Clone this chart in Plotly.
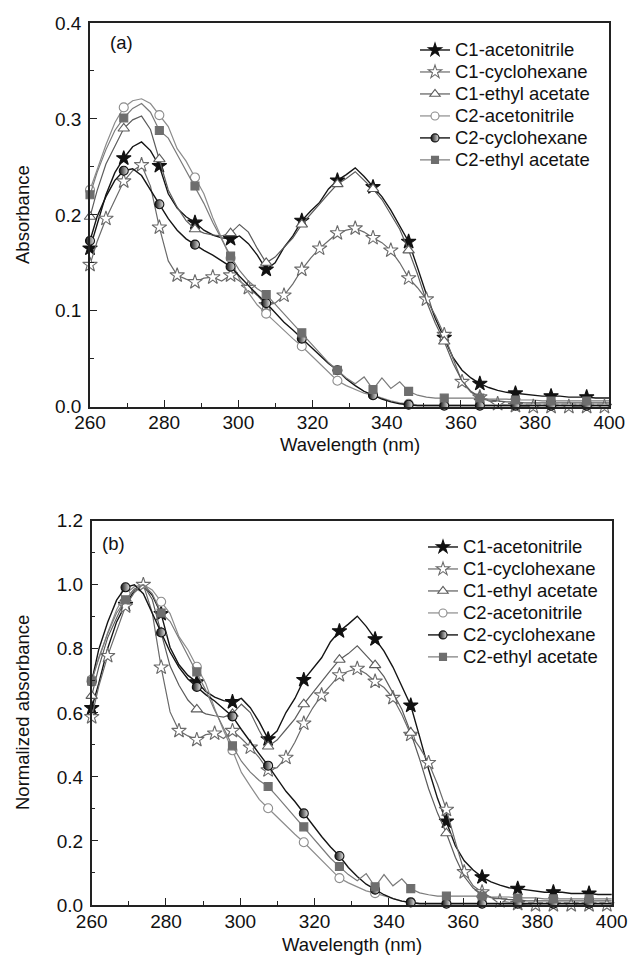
import plotly.graph_objects as go

# ---------------- data ----------------
wavelength = [260.0, 261.9, 264.3, 266.7, 269.1, 271.5, 273.9, 276.3, 278.7, 281.1,
              283.5, 285.9, 288.3, 290.7, 293.1, 295.5, 297.9, 300.3, 302.7, 305.1,
              307.5, 309.9, 312.3, 314.7, 317.1, 319.5, 321.9, 324.3, 326.7, 329.1,
              331.5, 333.9, 336.3, 338.7, 341.1, 343.5, 345.9, 348.3, 350.7, 353.1,
              355.5, 357.9, 360.3, 362.7, 365.1, 367.5, 369.9, 372.3, 374.7, 377.1,
              379.5, 381.9, 384.3, 386.7, 389.1, 391.5, 393.9, 396.3, 398.7, 401.1]

series_names = ["C1-acetonitrile", "C1-cyclohexane", "C1-ethyl acetate",
                "C2-acetonitrile", "C2-cyclohexane", "C2-ethyl acetate"]

# panel (a): absorbance
abs_c1_acn = [0.165, 0.191, 0.221, 0.244, 0.259, 0.271, 0.276, 0.267, 0.251, 0.222,
              0.207, 0.198, 0.192, 0.184, 0.179, 0.176, 0.175, 0.178, 0.170, 0.158,
              0.143, 0.150, 0.166, 0.178, 0.194, 0.204, 0.213, 0.227, 0.236, 0.242,
              0.249, 0.240, 0.229, 0.219, 0.205, 0.188, 0.172, 0.145, 0.117, 0.092,
              0.072, 0.051, 0.038, 0.030, 0.024, 0.020, 0.017, 0.015, 0.014, 0.013,
              0.012, 0.011, 0.011, 0.011, 0.010, 0.010, 0.010, 0.009, 0.009, 0.009]
abs_c1_cyc = [0.148, 0.172, 0.196, 0.216, 0.235, 0.246, 0.252, 0.230, 0.187, 0.152,
              0.137, 0.133, 0.130, 0.134, 0.135, 0.131, 0.137, 0.131, 0.124, 0.116,
              0.106, 0.108, 0.116, 0.128, 0.143, 0.155, 0.165, 0.173, 0.181, 0.184,
              0.186, 0.182, 0.176, 0.171, 0.163, 0.150, 0.134, 0.124, 0.112, 0.095,
              0.075, 0.050, 0.026, 0.015, 0.010, 0.006, 0.003, 0.002, 0.001, 0.000,
              0.000, -0.001, 0.000, -0.001, 0.000, 0.000, 0.000, -0.001, 0.000, 0.000]
abs_c1_ea = [0.198, 0.225, 0.253, 0.272, 0.290, 0.299, 0.303, 0.289, 0.258, 0.226,
             0.208, 0.194, 0.185, 0.181, 0.179, 0.178, 0.181, 0.190, 0.182, 0.165,
             0.150, 0.156, 0.166, 0.176, 0.190, 0.201, 0.211, 0.222, 0.232, 0.238,
             0.245, 0.236, 0.227, 0.216, 0.201, 0.185, 0.163, 0.138, 0.110, 0.087,
             0.068, 0.045, 0.027, 0.016, 0.010, 0.007, 0.006, 0.005, 0.005, 0.004,
             0.004, 0.004, 0.004, 0.004, 0.004, 0.004, 0.004, 0.004, 0.004, 0.004]
abs_c2_acn = [0.226, 0.247, 0.273, 0.296, 0.312, 0.319, 0.321, 0.316, 0.304, 0.292,
              0.269, 0.256, 0.239, 0.222, 0.197, 0.175, 0.155, 0.133, 0.119, 0.106,
              0.097, 0.088, 0.079, 0.071, 0.063, 0.054, 0.045, 0.035, 0.027, 0.022,
              0.018, 0.014, 0.012, 0.009, 0.006, 0.004, 0.003, 0.002, 0.002, 0.002,
              0.002, 0.002, 0.002, 0.002, 0.002, 0.002, 0.002, 0.002, 0.002, 0.002,
              0.002, 0.002, 0.002, 0.002, 0.002, 0.002, 0.002, 0.002, 0.002, 0.002]
abs_c2_cyc = [0.173, 0.198, 0.219, 0.236, 0.246, 0.248, 0.241, 0.226, 0.211, 0.196,
              0.184, 0.175, 0.169, 0.163, 0.158, 0.152, 0.146, 0.136, 0.126, 0.117,
              0.108, 0.098, 0.088, 0.080, 0.071, 0.062, 0.053, 0.045, 0.038, 0.029,
              0.022, 0.016, 0.012, 0.008, 0.005, 0.003, 0.002, 0.001, 0.001, 0.001,
              0.001, 0.001, 0.001, 0.001, 0.001, 0.001, 0.001, 0.001, 0.001, 0.001,
              0.001, 0.001, 0.001, 0.001, 0.001, 0.001, 0.001, 0.001, 0.001, 0.001]
abs_c2_ea = [0.221, 0.244, 0.268, 0.288, 0.301, 0.311, 0.316, 0.307, 0.288, 0.280,
             0.263, 0.246, 0.230, 0.212, 0.192, 0.174, 0.157, 0.142, 0.131, 0.123,
             0.117, 0.107, 0.097, 0.087, 0.077, 0.066, 0.056, 0.046, 0.038, 0.030,
             0.024, 0.031, 0.018, 0.030, 0.019, 0.026, 0.016, 0.012, 0.010, 0.009,
             0.009, 0.009, 0.009, 0.009, 0.009, 0.008, 0.008, 0.008, 0.007, 0.007,
             0.007, 0.006, 0.006, 0.006, 0.006, 0.006, 0.006, 0.006, 0.006, 0.006]

# panel (b): normalized absorbance
nrm_c1_acn = [0.615, 0.692, 0.801, 0.884, 0.938, 0.982, 1.000, 0.967, 0.909, 0.804,
              0.750, 0.717, 0.696, 0.667, 0.649, 0.638, 0.634, 0.645, 0.616, 0.572,
              0.518, 0.543, 0.601, 0.645, 0.703, 0.739, 0.772, 0.822, 0.855, 0.877,
              0.902, 0.870, 0.830, 0.793, 0.743, 0.681, 0.623, 0.525, 0.424, 0.333,
              0.261, 0.185, 0.138, 0.109, 0.087, 0.072, 0.062, 0.054, 0.051, 0.047,
              0.043, 0.040, 0.040, 0.040, 0.036, 0.036, 0.036, 0.033, 0.033, 0.033]
nrm_c1_cyc = [0.587, 0.683, 0.778, 0.857, 0.933, 0.976, 1.000, 0.913, 0.742, 0.603,
              0.544, 0.528, 0.516, 0.532, 0.536, 0.520, 0.544, 0.520, 0.492, 0.460,
              0.421, 0.429, 0.460, 0.508, 0.567, 0.615, 0.655, 0.686, 0.718, 0.730,
              0.738, 0.722, 0.698, 0.679, 0.647, 0.595, 0.532, 0.492, 0.444, 0.377,
              0.298, 0.198, 0.103, 0.060, 0.040, 0.024, 0.012, 0.008, 0.004, 0.000,
              0.000, -0.004, 0.000, -0.004, 0.000, 0.000, 0.000, -0.004, 0.000, 0.000]
nrm_c1_ea = [0.653, 0.743, 0.835, 0.898, 0.957, 0.987, 1.000, 0.954, 0.851, 0.746,
             0.686, 0.640, 0.611, 0.597, 0.591, 0.587, 0.597, 0.627, 0.601, 0.545,
             0.495, 0.515, 0.548, 0.581, 0.627, 0.663, 0.696, 0.733, 0.766, 0.785,
             0.809, 0.779, 0.749, 0.713, 0.663, 0.611, 0.538, 0.455, 0.363, 0.287,
             0.224, 0.149, 0.089, 0.053, 0.033, 0.023, 0.020, 0.017, 0.017, 0.013,
             0.013, 0.013, 0.013, 0.013, 0.013, 0.013, 0.013, 0.013, 0.013, 0.013]
nrm_c2_acn = [0.704, 0.769, 0.850, 0.922, 0.972, 0.994, 1.000, 0.984, 0.947, 0.910,
              0.838, 0.797, 0.744, 0.692, 0.614, 0.545, 0.483, 0.414, 0.371, 0.330,
              0.302, 0.274, 0.246, 0.221, 0.196, 0.168, 0.140, 0.109, 0.084, 0.069,
              0.056, 0.044, 0.037, 0.028, 0.019, 0.012, 0.009, 0.006, 0.006, 0.006,
              0.006, 0.006, 0.006, 0.006, 0.006, 0.006, 0.006, 0.006, 0.006, 0.006,
              0.006, 0.006, 0.006, 0.006, 0.006, 0.006, 0.006, 0.006, 0.006, 0.006]
nrm_c2_cyc = [0.698, 0.798, 0.883, 0.952, 0.992, 1.000, 0.972, 0.911, 0.851, 0.790,
              0.742, 0.706, 0.681, 0.657, 0.637, 0.613, 0.589, 0.548, 0.508, 0.472,
              0.435, 0.395, 0.355, 0.323, 0.286, 0.250, 0.214, 0.181, 0.153, 0.117,
              0.089, 0.065, 0.048, 0.032, 0.020, 0.012, 0.008, 0.004, 0.004, 0.004,
              0.004, 0.004, 0.004, 0.004, 0.004, 0.004, 0.004, 0.004, 0.004, 0.004,
              0.004, 0.004, 0.004, 0.004, 0.004, 0.004, 0.004, 0.004, 0.004, 0.004]
nrm_c2_ea = [0.699, 0.772, 0.848, 0.912, 0.953, 0.984, 1.000, 0.972, 0.912, 0.886,
             0.832, 0.779, 0.728, 0.671, 0.608, 0.551, 0.497, 0.449, 0.415, 0.389,
             0.370, 0.339, 0.307, 0.275, 0.244, 0.209, 0.177, 0.146, 0.120, 0.095,
             0.076, 0.098, 0.057, 0.095, 0.060, 0.082, 0.051, 0.038, 0.032, 0.028,
             0.028, 0.028, 0.028, 0.028, 0.028, 0.025, 0.025, 0.025, 0.022, 0.022,
             0.022, 0.019, 0.019, 0.019, 0.019, 0.019, 0.019, 0.019, 0.019, 0.019]

x_ticks = [260, 280, 300, 320, 340, 360, 380, 400]
y_ticks_a = [0.0, 0.1, 0.2, 0.3, 0.4]
y_ticks_b = [0.0, 0.2, 0.4, 0.6, 0.8, 1.0, 1.2]

panel_a = [abs_c1_acn, abs_c1_cyc, abs_c1_ea, abs_c2_acn, abs_c2_cyc, abs_c2_ea]
panel_b = [nrm_c1_acn, nrm_c1_cyc, nrm_c1_ea, nrm_c2_acn, nrm_c2_cyc, nrm_c2_ea]

# ---------------- styles ----------------
FONT = "Liberation Sans, Arial, sans-serif"
TXT = 18.5
styles = [
    dict(line="#151515", lw=1.4, symbol="star", size=11, fill="#111111", edge="#111111", step=4),
    dict(line="#6a6a6a", lw=1.2, symbol="star", size=11, fill="white", edge="#6a6a6a", step=2),
    dict(line="#5c5c5c", lw=1.2, symbol="triangle-up", size=10, fill="white", edge="#5c5c5c", step=4),
    dict(line="#8c8c8c", lw=1.2, symbol="circle", size=9, fill="white", edge="#8c8c8c", step=4),
    dict(line="#151515", lw=1.4, symbol="circle", size=9, fill="#111111", edge="#111111", step=4,
         gradient=True),
    dict(line="#7a7a7a", lw=1.2, symbol="square", size=8, fill="#6e6e6e", edge="#6e6e6e", step=4),
]


def marker_dict(st, size=None):
    m = dict(symbol=st["symbol"], size=size or st["size"], color=st["fill"],
             line=dict(color=st["edge"], width=1.1))
    if st.get("gradient"):
        m["gradient"] = dict(type="horizontal", color="#e8e8e8")
    return m


fig = go.Figure()

for panel, xa, ya, leg in [(panel_a, "x", "y", "legend"), (panel_b, "x2", "y2", "legend2")]:
    for name, vals, st in zip(series_names, panel, styles):
        fig.add_trace(go.Scatter(
            x=wavelength, y=vals, mode="lines", xaxis=xa, yaxis=ya,
            line=dict(color=st["line"], width=st["lw"]),
            showlegend=False, hoverinfo="skip"))
        fig.add_trace(go.Scatter(
            x=wavelength[::st["step"]], y=vals[::st["step"]], mode="markers",
            xaxis=xa, yaxis=ya, marker=marker_dict(st), cliponaxis=False,
            showlegend=False, name=name))
    for name, st in zip(series_names, styles):
        fig.add_trace(go.Scatter(
            x=[None], y=[None], mode="lines+markers", xaxis=xa, yaxis=ya,
            name=f'<span style="font-size:{TXT}px">{name}</span>', legend=leg,
            line=dict(color=st["line"], width=st["lw"]),
            marker=marker_dict(st, size=st["size"] - 1)))

W, H = 630, 956
axis_line = dict(showline=True, linecolor="#222222", linewidth=1.5, mirror=True,
                 ticks="inside", ticklen=7, tickwidth=1.3, tickcolor="#222222",
                 showgrid=False, zeroline=False, automargin=False,
                 tickfont=dict(family=FONT, size=TXT + 0.5, color="#111111"))


def xaxis(domain, anchor):
    d = dict(axis_line)
    d.update(domain=domain, anchor=anchor, range=[260, 400], tickvals=x_ticks,
             ticklabelstandoff=-2,
             minor=dict(ticks="inside", ticklen=4, tickwidth=1.2, tickcolor="#222222",
                        dtick=10, tick0=260, showgrid=False))
    return d


def yaxis(domain, anchor, rng, tv, minor_dt):
    d = dict(axis_line)
    d.update(domain=domain, anchor=anchor, range=rng, tickvals=tv, tickformat=".1f",
             ticklabelstandoff=3,
             minor=dict(ticks="inside", ticklen=4, tickwidth=1.2, tickcolor="#222222",
                        dtick=minor_dt, tick0=0, showgrid=False))
    return d


# legend font size sets the row pitch (~22 px); the label text itself is 18.5 px
LEG_FONT = 14.6
fig.update_layout(
    template="none",
    width=W, height=H,
    margin=dict(l=0, r=0, t=0, b=0, autoexpand=False),
    paper_bgcolor="white", plot_bgcolor="white",
    font=dict(family=FONT, size=TXT, color="#111111"),
    xaxis=xaxis([90 / W, 609.3 / W], "y"),
    yaxis=yaxis([1 - 406.7 / H, 1 - 23 / H], "x", [0, 0.4], y_ticks_a, 0.05),
    xaxis2=xaxis([91.7 / W, 611.7 / W], "y2"),
    yaxis2=yaxis([1 - 905 / H, 1 - 520.7 / H], "x2", [0, 1.2], y_ticks_b, 0.1),
    legend=dict(x=415 / W, y=1 - 34 / H, xanchor="left", yanchor="top",
                font=dict(family=FONT, size=LEG_FONT, color="#111111"),
                bgcolor="rgba(0,0,0,0)", borderwidth=0, tracegroupgap=0),
    legend2=dict(x=423 / W, y=1 - 531 / H, xanchor="left", yanchor="top",
                 font=dict(family=FONT, size=LEG_FONT, color="#111111"),
                 bgcolor="rgba(0,0,0,0)", borderwidth=0, tracegroupgap=0),
    showlegend=True,
)

ann = dict(xref="paper", yref="paper", showarrow=False, xanchor="center", yanchor="middle",
           font=dict(family=FONT, size=TXT, color="#111111"))
fig.add_annotation(text="(a)", x=121 / W, y=1 - 43 / H, **ann)
fig.add_annotation(text="(b)", x=113 / W, y=1 - 543 / H, **ann)
fig.add_annotation(text="Wavelength (nm)", x=(90 + 609.3) / 2 / W, y=1 - 445 / H, **ann)
fig.add_annotation(text="Wavelength (nm)", x=(91.7 + 611.7) / 2 / W, y=1 - 944 / H, **ann)
fig.add_annotation(text="Absorbance", x=22 / W, y=1 - 215 / H, textangle=-90, **ann)
fig.add_annotation(text="Normalized absorbance", x=22 / W, y=1 - 713 / H, textangle=-90, **ann)

# the page's default 8 px body margin would push the 630x956 figure off the window
fig.write_html("out.html", config={"displayModeBar": False},
               post_script="document.body.style.margin='0px';")
